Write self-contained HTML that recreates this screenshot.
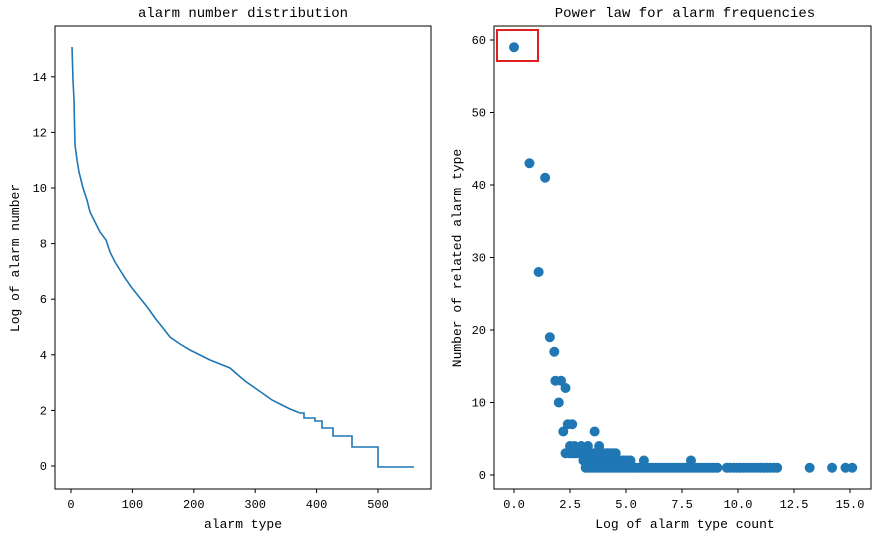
<!DOCTYPE html>
<html><head><meta charset="utf-8"><style>
html,body{margin:0;padding:0;background:#fff}
svg text{font-family:"Liberation Mono","WenQuanYi Zen Hei",monospace;fill:#000}
</style></head><body>
<svg id="s" width="883" height="541" xmlns="http://www.w3.org/2000/svg">
<rect width="883" height="541" fill="#fff"/>
<text x="243" y="17" font-size="14" text-anchor="middle">alarm number distribution</text>
<polyline fill="none" stroke="#1f77b4" stroke-width="1.6" points="72,47 73,80 74,100 75,145 77,160 79,172 83,188 87,200 90,212 95,222 100,232 106,240 110,252 115,262 120,270 125,278 132,288 140,298 148,308 155,318 163,328 170,337 180,344 190,350 200,355 210,360 220,364 230,368 238,375 245,381 255,388 265,395 272,400 280,404 290,409 300,413 304,413 304,418 315,418 315,421 322,421 322,428 333,428 333,436 352,436 352,447 378,447 378,467 414,467"/>
<rect x="55" y="26" width="376" height="463" fill="none" stroke="#000" stroke-width="1"/>
<g id="lt" font-size="12"></g>
<text x="243" y="528" font-size="13" text-anchor="middle">alarm type</text>
<text transform="translate(19,258) rotate(-90)" font-size="13" text-anchor="middle">Log of alarm number</text>
<text x="685" y="17" font-size="14" text-anchor="middle">Power law for alarm frequencies</text>
<g id="pts" fill="#1f77b4"></g>
<rect x="494" y="26" width="377" height="463" fill="none" stroke="#000" stroke-width="1"/>
<rect x="497" y="30" width="41" height="31" fill="none" stroke="#e02020" stroke-width="2"/>
<g id="rt" font-size="12"></g>
<text x="685" y="528" font-size="13" text-anchor="middle">Log of alarm type count</text>
<text transform="translate(461,258) rotate(-90)" font-size="13" text-anchor="middle">Number of related alarm type</text>
</svg>
<script>
var NS="http://www.w3.org/2000/svg";
function el(p,t,a,txt){var e=document.createElementNS(NS,t);for(var k in a)e.setAttribute(k,a[k]);if(txt!=null)e.textContent=txt;document.getElementById(p).appendChild(e);}
for(var i=0;i<=5;i++){var x=71+i*61.4;el("lt","line",{x1:x,x2:x,y1:489,y2:493,stroke:"#000"});el("lt","text",{x:x,y:508,"text-anchor":"middle"},String(i*100));}
for(var i=0;i<=7;i++){var v=i*2,y=466-v*27.8;el("lt","line",{x1:51,x2:55,y1:y,y2:y,stroke:"#000"});el("lt","text",{x:47,y:y+4,"text-anchor":"end"},String(v));}
for(var i=0;i<=6;i++){var v=i*2.5,x=514+v*22.4;el("rt","line",{x1:x,x2:x,y1:489,y2:493,stroke:"#000"});el("rt","text",{x:x,y:508,"text-anchor":"middle"},v.toFixed(1));}
for(var i=0;i<=6;i++){var v=i*10,y=475-v*7.25;el("rt","line",{x1:490,x2:494,y1:y,y2:y,stroke:"#000"});el("rt","text",{x:486,y:y+4,"text-anchor":"end"},String(v));}
function P(v,n){el("pts","circle",{cx:514+v*22.4,cy:475-n*7.25,r:5});}
var pts=[[0,59],[0.69,43],[1.1,28],[1.39,41],[1.6,19],[1.8,17],[1.85,13],[2.1,13],[2.3,12],[2.0,10],[2.4,7],[2.6,7],[2.2,6],[3.6,6],[2.3,3],[2.5,4],[2.7,4],[3.0,4],[3.3,4],[3.8,4],[5.8,2],[7.9,2],[13.2,1],[14.2,1],[14.8,1],[15.1,1]];
pts.forEach(function(p){P(p[0],p[1]);});
for(var v=2.5;v<4.6;v+=0.12)P(v,3);
for(var v=3.1;v<5.2;v+=0.1)P(v,2);
for(var v=3.2;v<9.1;v+=0.12)P(v,1);
for(var v=9.5;v<11.8;v+=0.15)P(v,1);
</script>
</body></html>
